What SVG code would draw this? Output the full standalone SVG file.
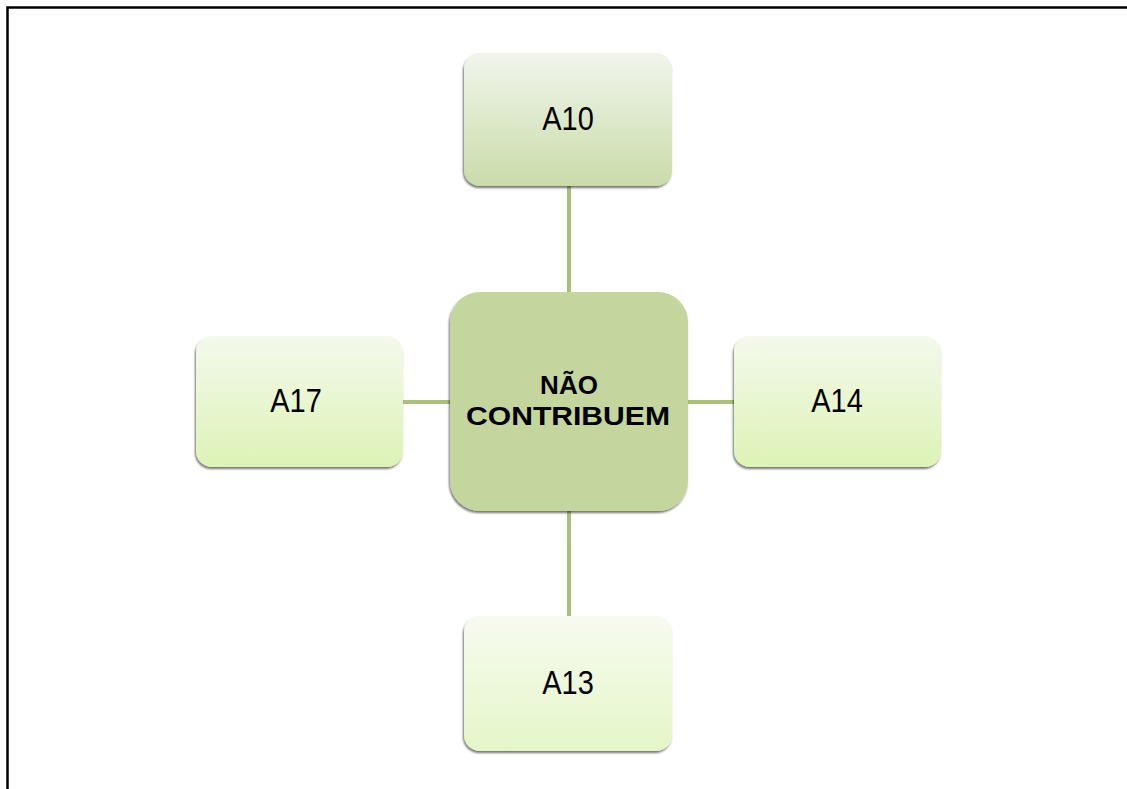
<svg xmlns="http://www.w3.org/2000/svg" width="1127" height="789" viewBox="0 0 1127 789">
<defs>
<linearGradient id="gTop" x1="0" y1="0" x2="0" y2="1">
<stop offset="0" stop-color="#f1f5eb"/>
<stop offset="1" stop-color="#c9dcaa"/>
</linearGradient>
<linearGradient id="gSide" x1="0" y1="0" x2="0" y2="1">
<stop offset="0" stop-color="#f4f9ec"/>
<stop offset="1" stop-color="#ddf3b6"/>
</linearGradient>
<linearGradient id="gBot" x1="0" y1="0" x2="0" y2="1">
<stop offset="0" stop-color="#f7fbf0"/>
<stop offset="1" stop-color="#e5f6c8"/>
</linearGradient>
<filter id="sh" x="-10%" y="-10%" width="120%" height="125%">
<feGaussianBlur in="SourceAlpha" stdDeviation="1"/>
<feOffset dx="-1" dy="2" result="b"/>
<feComponentTransfer><feFuncA type="linear" slope="0.55"/></feComponentTransfer>
<feMerge><feMergeNode/><feMergeNode in="SourceGraphic"/></feMerge>
</filter>
</defs>
<style>
.frame{stroke:#000;stroke-width:2.5;fill:none}
.conn{stroke:#a9c17c;stroke-width:4;fill:none}
.lbl{font-family:"Liberation Sans",Arial,sans-serif;font-size:29px;fill:#000;text-anchor:middle}
.ctr{font-family:"Liberation Sans",Arial,sans-serif;font-size:26px;font-weight:bold;fill:#000;text-anchor:middle}
</style>
<rect width="1127" height="789" fill="#fff"/>
<path class="frame" d="M7.5 789 V7.5 H1127"/>
<g id="connectors">
<line class="conn" x1="569" y1="186" x2="569" y2="293"/>
<line class="conn" x1="569" y1="511" x2="569" y2="617"/>
<line class="conn" x1="403" y1="402" x2="451" y2="402"/>
<line class="conn" x1="687" y1="402" x2="734" y2="402"/>
</g>
<g id="node-center">
<rect x="450" y="292" width="238" height="219" rx="30" fill="#c4d69d" filter="url(#sh)"/>
<text class="ctr" x="569" y="394">NÃO</text>
<text class="ctr" x="568" y="425" textLength="204" lengthAdjust="spacingAndGlyphs">CONTRIBUEM</text>
</g>
<g id="node-a10">
<rect x="464" y="53" width="208" height="133" rx="16" fill="url(#gTop)" filter="url(#sh)"/>
<text class="lbl" transform="translate(568 130) scale(1 1.12)">A10</text>
</g>
<g id="node-a17">
<rect x="196" y="336" width="207" height="131" rx="16" fill="url(#gSide)" filter="url(#sh)"/>
<text class="lbl" transform="translate(296 412) scale(1 1.12)">A17</text>
</g>
<g id="node-a14">
<rect x="734" y="336" width="207" height="131" rx="16" fill="url(#gSide)" filter="url(#sh)"/>
<text class="lbl" transform="translate(837 412) scale(1 1.12)">A14</text>
</g>
<g id="node-a13">
<rect x="464" y="616" width="208" height="135" rx="16" fill="url(#gBot)" filter="url(#sh)"/>
<text class="lbl" transform="translate(568 694) scale(1 1.12)">A13</text>
</g>
</svg>
